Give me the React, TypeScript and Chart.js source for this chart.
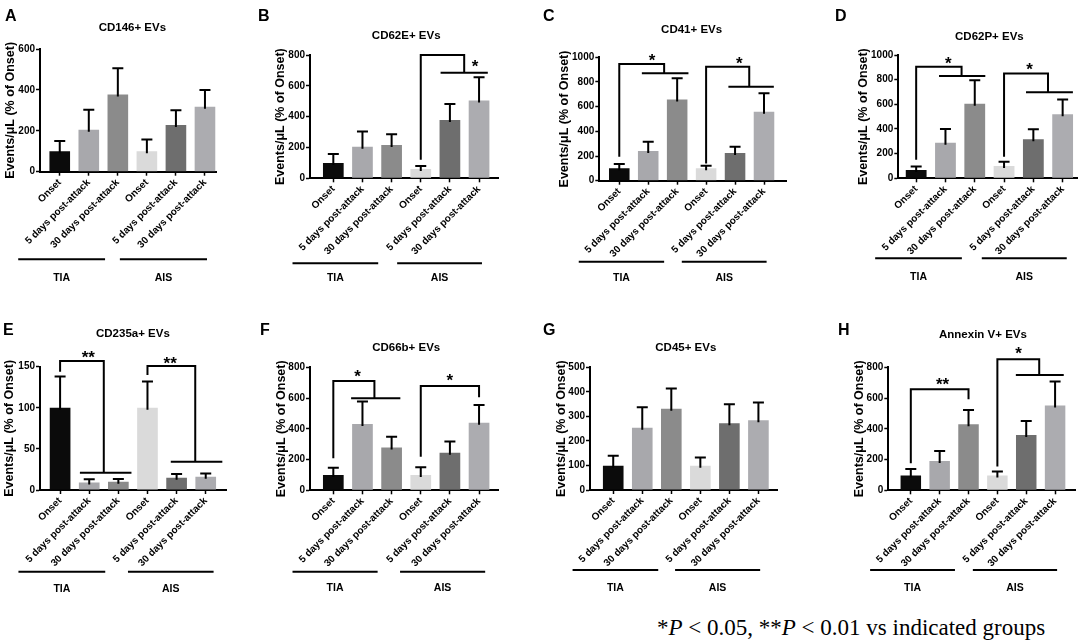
import { useEffect, useRef } from "react";
import Chart from "chart.js/auto";

Chart.defaults.font.family = "'Liberation Sans', Arial, Helvetica, sans-serif";

const categories = [
  "Onset",
  "5 days post-attack",
  "30 days post-attack",
  "Onset",
  "5 days post-attack",
  "30 days post-attack",
];
const groups = ["TIA", "AIS"];
const barColors = ["#0b0b0b", "#a8a8ac", "#8b8b8b", "#dadada", "#6e6e6e", "#acacb0"];
const yTitle = "Events/\u03bcL (% of Onset)";

// mean and SEM per bar
const cd146Mean = [100, 205, 378, 100, 228, 318];
const cd146Sem = [50, 98, 128, 57, 72, 82];
const cd146Ticks = [0, 200, 400, 600];

const cd62eMean = [100, 205, 216, 60, 378, 504];
const cd62eSem = [58, 98, 69, 20, 104, 151];
const cd62eTicks = [0, 200, 400, 600, 800];

const cd41Mean = [100, 240, 659, 100, 224, 559];
const cd41Sem = [35, 76, 171, 22, 52, 149];
const cd41Ticks = [0, 200, 400, 600, 800, 1000];

const cd62pMean = [68, 289, 605, 100, 316, 519];
const cd62pSem = [27, 111, 190, 35, 81, 121];
const cd62pTicks = [0, 200, 400, 600, 800, 1000];

const cd235aMean = [100, 9, 10, 100, 15, 16];
const cd235aSem = [38, 4, 3.5, 32, 4.5, 4];
const cd235aTicks = [0, 50, 100, 150];

const cd66bMean = [100, 432, 278, 100, 245, 440];
const cd66bSem = [47, 145, 71, 50, 72, 115];
const cd66bTicks = [0, 200, 400, 600, 800];

const cd45Mean = [99, 254, 331, 99, 272, 284];
const cd45Sem = [41, 83, 83, 33, 77, 73];
const cd45Ticks = [0, 100, 200, 300, 400, 500];

const annexinMean = [97, 191, 430, 97, 360, 551];
const annexinSem = [42, 65, 93, 26, 91, 156];
const annexinTicks = [0, 200, 400, 600, 800];

// significance brackets in data units (bar index, value)
type Bracket = {
  from: number;
  base: number;
  top: number;
  to: number;
  drop: number;
  span?: [number, number];
  mark: string;
  markAt: [number, number];
};

const cd62eBrackets: Bracket[] = [
  { from: 3, base: 120, top: 800, to: 4.49, drop: 685, span: [3.68, 5.3], mark: "*", markAt: [4.86, 746] },
];
const cd41Brackets: Bracket[] = [
  { from: 0, base: 195, top: 946, to: 1.55, drop: 870, span: [0.78, 2.39], mark: "*", markAt: [1.13, 1000] },
  { from: 3, base: 140, top: 924, to: 4.49, drop: 762, span: [3.77, 5.34], mark: "*", markAt: [4.15, 975] },
];
const cd62pBrackets: Bracket[] = [
  { from: 0, base: 150, top: 905, to: 1.55, drop: 830, span: [0.78, 2.36], mark: "*", markAt: [1.1, 960] },
  { from: 3, base: 175, top: 850, to: 4.5, drop: 697, span: [3.75, 5.35], mark: "*", markAt: [3.87, 905] },
];
const cd235aBrackets: Bracket[] = [
  { from: 0, base: 144, top: 157, to: 1.5, drop: 21, span: [0.68, 2.45], mark: "**", markAt: [0.97, 165] },
  { from: 3, base: 140, top: 151, to: 4.64, drop: 34.5, span: [3.8, 5.57], mark: "**", markAt: [3.78, 158] },
];
const cd66bBrackets: Bracket[] = [
  { from: 0, base: 208, top: 711, to: 1.41, drop: 599, span: [0.61, 2.3], mark: "*", markAt: [0.83, 761] },
  { from: 3, base: 219, top: 679, to: 5, drop: 605, mark: "*", markAt: [4, 733] },
];
const annexinBrackets: Bracket[] = [
  { from: 0, base: 176, top: 657, to: 2, drop: 592, mark: "**", markAt: [1.1, 707] },
  { from: 3, base: 154, top: 852, to: 4.45, drop: 750, span: [3.64, 5.3], mark: "*", markAt: [3.73, 913] },
];

type PanelSpec = {
  letter: string;
  title: string;
  mean: number[];
  sem: number[];
  ticks: number[];
  brackets: Bracket[];
  box: [number, number, number];
  axisX: number;
  yTop: number;
  yBottom: number;
  xRight: number;
  titleGap: number;
  xMin: number;
  xMax: number;
  titleY: number;
  groupY: number;
  labelY: number;
  spans: [number, number][];
  letterAt: [number, number];
};

const PANEL_H = 305;
const X_AXIS_H = 100;

const panels: PanelSpec[] = [
  {
    letter: "A", title: "CD146+ EVs", mean: cd146Mean, sem: cd146Sem, ticks: cd146Ticks, brackets: [],
    box: [0, 0, 270], axisX: 40, yTop: 49, yBottom: 171.7, xRight: 216, titleGap: 29.5,
    xMin: -0.68, xMax: 5.38, titleY: 28.3, groupY: 259.3, labelY: 278.3,
    spans: [[-1.43, 1.56], [2.07, 5.07]], letterAt: [5, 8],
  },
  {
    letter: "B", title: "CD62E+ EVs", mean: cd62eMean, sem: cd62eSem, ticks: cd62eTicks, brackets: cd62eBrackets,
    box: [270, 0, 270], axisX: 310, yTop: 55, yBottom: 178.3, xRight: 498, titleGap: 29.3,
    xMin: -0.8, xMax: 5.65, titleY: 36, groupY: 263.3, labelY: 278.3,
    spans: [[-1.4, 1.54], [2.19, 5.1]], letterAt: [258, 8],
  },
  {
    letter: "C", title: "CD41+ EVs", mean: cd41Mean, sem: cd41Sem, ticks: cd41Ticks, brackets: cd41Brackets,
    box: [540, 0, 270], axisX: 599.3, yTop: 57.3, yBottom: 180.7, xRight: 786, titleGap: 34.3,
    xMin: -0.69, xMax: 5.76, titleY: 30, groupY: 261.7, labelY: 278.3,
    spans: [[-1.4, 1.55], [2.16, 5.09]], letterAt: [543, 8],
  },
  {
    letter: "D", title: "CD62P+ EVs", mean: cd62pMean, sem: cd62pSem, ticks: cd62pTicks, brackets: cd62pBrackets,
    box: [810, 0, 274], axisX: 898.3, yTop: 55, yBottom: 178.3, xRight: 1077, titleGap: 34.3,
    xMin: -0.61, xMax: 5.49, titleY: 36.7, groupY: 258.3, labelY: 277.3,
    spans: [[-1.4, 1.56], [2.24, 5.14]], letterAt: [835, 8],
  },
  {
    letter: "E", title: "CD235a+ EVs", mean: cd235aMean, sem: cd235aSem, ticks: cd235aTicks, brackets: cd235aBrackets,
    box: [0, 305, 270], axisX: 40, yTop: 366.7, yBottom: 490, xRight: 226.7, titleGap: 30,
    xMin: -0.69, xMax: 5.72, titleY: 334, groupY: 571.7, labelY: 589,
    spans: [[-1.43, 1.55], [2.33, 5.27]], letterAt: [3, 322],
  },
  {
    letter: "F", title: "CD66b+ EVs", mean: cd66bMean, sem: cd66bSem, ticks: cd66bTicks, brackets: cd66bBrackets,
    box: [270, 305, 270], axisX: 310, yTop: 367.3, yBottom: 490.3, xRight: 498, titleGap: 28.3,
    xMin: -0.8, xMax: 5.65, titleY: 348.3, groupY: 571.7, labelY: 588.3,
    spans: [[-1.4, 1.52], [2.29, 5.21]], letterAt: [260, 322],
  },
  {
    letter: "G", title: "CD45+ EVs", mean: cd45Mean, sem: cd45Sem, ticks: cd45Ticks, brackets: [],
    box: [540, 305, 270], axisX: 590, yTop: 367.3, yBottom: 490, xRight: 777, titleGap: 28.3,
    xMin: -0.8, xMax: 5.64, titleY: 348, groupY: 570, labelY: 588.3,
    spans: [[-1.4, 1.55], [2.13, 5.06]], letterAt: [543, 322],
  },
  {
    letter: "H", title: "Annexin V+ EVs", mean: annexinMean, sem: annexinSem, ticks: annexinTicks, brackets: annexinBrackets,
    box: [810, 305, 274], axisX: 888.3, yTop: 367.3, yBottom: 490.3, xRight: 1075, titleGap: 28.3,
    xMin: -0.78, xMax: 5.69, titleY: 335, groupY: 570, labelY: 588.3,
    spans: [[-1.41, 1.53], [2.15, 5.07]], letterAt: [838, 322],
  },
];

const FONT = "'Liberation Sans', Arial, Helvetica, sans-serif";

// error bars, brackets, title and TIA/AIS group lines
function overlay(p: PanelSpec) {
  return {
    id: "overlay",
    afterDraw(chart: Chart) {
      const { ctx } = chart;
      const x = chart.scales.x;
      const y = chart.scales.y;
      const top = p.box[1];
      ctx.save();
      ctx.strokeStyle = "#000";
      ctx.fillStyle = "#000";
      ctx.lineWidth = 2;

      p.mean.forEach((m, i) => {
        const px = x.getPixelForValue(i);
        const y0 = y.getPixelForValue(m);
        const y1 = y.getPixelForValue(m + p.sem[i]);
        ctx.beginPath();
        ctx.moveTo(px, y0 + 2);
        ctx.lineTo(px, y1);
        ctx.moveTo(px - 5.5, y1);
        ctx.lineTo(px + 5.5, y1);
        ctx.stroke();
      });

      p.brackets.forEach((b) => {
        ctx.beginPath();
        ctx.moveTo(x.getPixelForValue(b.from), y.getPixelForValue(b.base));
        ctx.lineTo(x.getPixelForValue(b.from), y.getPixelForValue(b.top));
        ctx.lineTo(x.getPixelForValue(b.to), y.getPixelForValue(b.top));
        ctx.lineTo(x.getPixelForValue(b.to), y.getPixelForValue(b.drop));
        if (b.span) {
          ctx.moveTo(x.getPixelForValue(b.span[0]), y.getPixelForValue(b.drop));
          ctx.lineTo(x.getPixelForValue(b.span[1]), y.getPixelForValue(b.drop));
        }
        ctx.stroke();
        ctx.font = `bold 17px ${FONT}`;
        ctx.textAlign = "center";
        ctx.textBaseline = "middle";
        ctx.fillText(b.mark, x.getPixelForValue(b.markAt[0]), y.getPixelForValue(b.markAt[1]) + 4);
      });

      ctx.font = `bold 11.5px ${FONT}`;
      ctx.textAlign = "center";
      ctx.textBaseline = "middle";
      const mid = (x.getPixelForValue(0) + x.getPixelForValue(categories.length - 1)) / 2;
      ctx.fillText(p.title, mid, p.titleY - top);

      ctx.font = `bold 10.5px ${FONT}`;
      p.spans.forEach(([a, b], g) => {
        const xa = x.getPixelForValue(a);
        const xb = x.getPixelForValue(b);
        ctx.beginPath();
        ctx.moveTo(xa, p.groupY - top);
        ctx.lineTo(xb, p.groupY - top);
        ctx.stroke();
        ctx.fillText(groups[g], (xa + xb) / 2, p.labelY - top);
      });
      ctx.restore();
    },
  };
}

function Panel({ p }: { p: PanelSpec }) {
  const ref = useRef<HTMLCanvasElement | null>(null);
  const [left, top, width] = p.box;

  useEffect(() => {
    const canvas = ref.current;
    if (!canvas) return;
    const yw = p.titleGap + 6.25;
    const axisStyle = {
      grid: {
        display: true,
        offset: false,
        drawOnChartArea: false,
        drawTicks: true,
        tickLength: 4,
        tickWidth: 1.5,
        tickColor: "#000",
      },
      border: { display: true, color: "#000", width: 2 },
    };
    const chart = new Chart(canvas, {
      type: "bar",
      data: {
        datasets: [
          {
            data: p.mean.map((v, i) => ({ x: i, y: v })),
            backgroundColor: barColors,
            borderWidth: 0,
            barPercentage: 0.71,
            categoryPercentage: 1,
          },
        ],
      },
      options: {
        animation: false,
        responsive: false,
        events: [],
        layout: {
          padding: {
            left: p.axisX - left - yw,
            right: left + width - p.xRight,
            top: p.yTop - top,
            bottom: top + PANEL_H - p.yBottom - X_AXIS_H,
          },
        },
        plugins: { legend: { display: false }, tooltip: { enabled: false } },
        scales: {
          x: {
            type: "linear",
            min: p.xMin,
            max: p.xMax,
            offset: false,
            afterFit: (s: any) => {
              s.height = X_AXIS_H;
            },
            afterBuildTicks: (s: any) => {
              s.ticks = categories.map((_, i) => ({ value: i }));
            },
            ...axisStyle,
            ticks: {
              autoSkip: false,
              minRotation: 45,
              maxRotation: 45,
              padding: 1,
              color: "#000",
              font: { size: 10, weight: "bold" },
              callback: (v: any) => categories[v as number] ?? "",
            },
          },
          y: {
            min: 0,
            max: p.ticks[p.ticks.length - 1],
            afterFit: (s: any) => {
              s.width = yw;
            },
            afterBuildTicks: (s: any) => {
              s.ticks = p.ticks.map((v) => ({ value: v }));
            },
            ...axisStyle,
            ticks: {
              padding: 1,
              color: "#000",
              font: { size: 10, weight: "bold" },
              callback: (v: any) => String(v),
            },
            title: {
              display: true,
              text: yTitle,
              color: "#000",
              padding: 0,
              font: { size: 12.5, weight: "bold", lineHeight: 1 },
            },
          },
        },
      },
      plugins: [overlay(p)],
    } as any);
    return () => chart.destroy();
  }, [p]);

  return (
    <canvas
      ref={ref}
      width={width}
      height={PANEL_H}
      style={{ position: "absolute", left, top, width, height: PANEL_H }}
    />
  );
}

export default function App() {
  return (
    <div
      style={{
        position: "fixed",
        left: 0,
        top: 0,
        width: 1084,
        height: 644,
        background: "#fff",
        overflow: "hidden",
      }}
    >
      {panels.map((p) => (
        <Panel key={p.letter} p={p} />
      ))}
      {panels.map((p) => (
        <div
          key={"l" + p.letter}
          style={{
            position: "absolute",
            left: p.letterAt[0],
            top: p.letterAt[1],
            font: `bold 16px ${FONT}`,
            lineHeight: "16px",
            color: "#000",
          }}
        >
          {p.letter}
        </div>
      ))}
      <div
        style={{
          position: "absolute",
          left: 657,
          top: 616,
          font: "23px 'Liberation Serif', 'Times New Roman', serif",
          lineHeight: "23px",
          whiteSpace: "nowrap",
          color: "#000",
        }}
      >
        *<i>P</i> &lt; 0.05, **<i>P</i> &lt; 0.01 vs indicated groups
      </div>
    </div>
  );
}
